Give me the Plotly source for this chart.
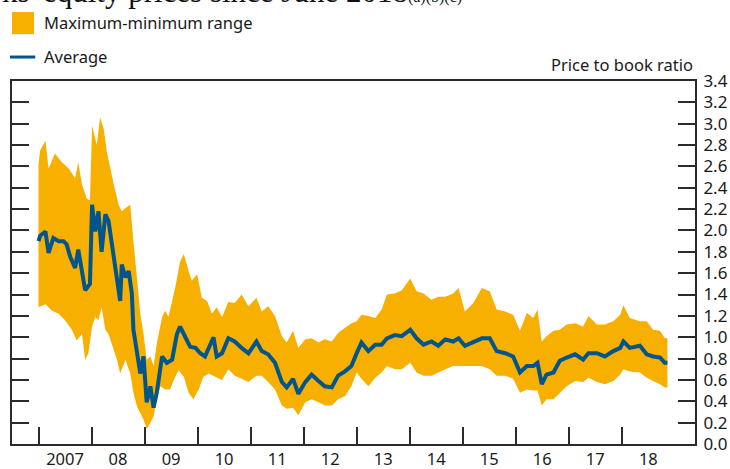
import plotly.graph_objects as go

# ---- data ----
max_t = [2007.00, 2007.03, 2007.13, 2007.19, 2007.31, 2007.44, 2007.57, 2007.69, 2007.75, 2007.82,
         2007.91, 2007.97, 2008.01, 2008.10, 2008.16, 2008.23, 2008.29, 2008.35, 2008.42, 2008.51,
         2008.57, 2008.64, 2008.73, 2008.79, 2008.86, 2008.92, 2008.98, 2009.04, 2009.11, 2009.17,
         2009.23, 2009.33, 2009.39, 2009.45, 2009.52, 2009.58, 2009.67, 2009.74, 2009.83, 2009.89,
         2009.99, 2010.08, 2010.18, 2010.27, 2010.36, 2010.46,
         2010.58, 2010.70, 2010.83, 2010.96, 2011.11, 2011.21, 2011.33, 2011.46, 2011.59, 2011.68,
         2011.80, 2011.90, 2012.03, 2012.15, 2012.28, 2012.40, 2012.53, 2012.65, 2012.78, 2012.90,
         2013.00, 2013.09, 2013.22, 2013.35, 2013.47, 2013.57, 2013.72, 2013.85, 2014.01, 2014.13,
         2014.26, 2014.41, 2014.54, 2014.67, 2014.82,
         2014.92, 2015.04, 2015.20, 2015.36, 2015.51, 2015.64, 2015.80, 2015.95, 2016.08, 2016.21,
         2016.33, 2016.41, 2016.49, 2016.58, 2016.71, 2016.83, 2016.96, 2017.12, 2017.27, 2017.37,
         2017.53, 2017.68, 2017.84, 2017.97, 2018.03, 2018.15, 2018.34, 2018.47, 2018.59, 2018.72,
         2018.81, 2018.86]
max_vals = [2.62, 2.75, 2.84, 2.58, 2.72, 2.64, 2.58, 2.49, 2.64, 2.43,
            2.30, 2.28, 2.98, 2.80, 3.06, 2.95, 2.73, 2.58, 2.43, 2.24,
            2.18, 2.21, 2.24, 1.90, 1.50, 1.22, 1.03, 0.79, 0.82, 0.73,
            0.94, 1.19, 1.25, 1.19, 1.34, 1.47, 1.71, 1.78, 1.62, 1.53,
            1.59, 1.37, 1.34, 1.22, 1.28, 1.19,
            1.33, 1.32, 1.40, 1.29, 1.37, 1.24, 1.29, 1.20, 1.01, 0.95,
            1.06, 0.90, 0.98, 0.99, 0.95, 0.98, 0.96, 1.04, 1.09, 1.13,
            1.15, 1.21, 1.20, 1.18, 1.26, 1.40, 1.41, 1.44, 1.55, 1.43,
            1.41, 1.35, 1.38, 1.38, 1.41,
            1.46, 1.24, 1.32, 1.46, 1.43, 1.26, 1.24, 1.21, 1.06, 1.23,
            1.18, 1.26, 0.96, 1.01, 1.06, 1.07, 1.12, 1.13, 1.10, 1.20,
            1.12, 1.12, 1.15, 1.21, 1.30, 1.18, 1.15, 1.15, 1.07, 1.06,
            0.99, 0.99]

min_t = [2007.00, 2007.13, 2007.25, 2007.38, 2007.50, 2007.63, 2007.72, 2007.82, 2007.88, 2007.94,
         2008.01, 2008.07, 2008.13, 2008.19, 2008.26, 2008.32, 2008.38, 2008.48, 2008.54, 2008.64,
         2008.73, 2008.79, 2008.86, 2008.92, 2008.98, 2009.04, 2009.11, 2009.17, 2009.23, 2009.30,
         2009.39, 2009.48, 2009.55, 2009.64, 2009.74, 2009.83, 2009.92, 2010.02, 2010.11, 2010.21,
         2010.33, 2010.46,
         2010.58, 2010.70, 2010.83, 2010.96, 2011.11, 2011.21, 2011.33, 2011.46, 2011.59, 2011.68,
         2011.80, 2011.90, 2012.03, 2012.15, 2012.28, 2012.40, 2012.53, 2012.65, 2012.78, 2012.90,
         2013.00, 2013.09, 2013.22, 2013.35, 2013.47, 2013.57, 2013.72, 2013.85, 2014.01, 2014.13,
         2014.26, 2014.41, 2014.54, 2014.67, 2014.82,
         2014.92, 2015.04, 2015.20, 2015.36, 2015.51, 2015.64, 2015.80, 2015.95, 2016.08, 2016.21,
         2016.33, 2016.41, 2016.49, 2016.58, 2016.71, 2016.83, 2016.96, 2017.12, 2017.27, 2017.37,
         2017.53, 2017.68, 2017.84, 2017.97, 2018.03, 2018.15, 2018.34, 2018.47, 2018.59, 2018.72,
         2018.81, 2018.86]
min_vals = [1.28, 1.31, 1.25, 1.22, 1.16, 1.07, 0.97, 1.03, 0.79, 0.85,
            1.10, 1.19, 1.16, 1.28, 1.07, 1.03, 0.94, 0.79, 0.66, 0.79,
            0.66, 0.48, 0.35, 0.29, 0.23, 0.14, 0.20, 0.26, 0.42, 0.54,
            0.51, 0.51, 0.60, 0.69, 0.63, 0.48, 0.42, 0.51, 0.63, 0.66,
            0.63, 0.60,
            0.70, 0.64, 0.61, 0.58, 0.64, 0.64, 0.58, 0.51, 0.36, 0.33,
            0.34, 0.27, 0.39, 0.42, 0.39, 0.36, 0.36, 0.42, 0.45, 0.54,
            0.67, 0.61, 0.54, 0.62, 0.67, 0.73, 0.70, 0.70, 0.76, 0.67,
            0.64, 0.64, 0.67, 0.70, 0.73,
            0.73, 0.73, 0.73, 0.73, 0.70, 0.64, 0.64, 0.61, 0.48, 0.51,
            0.50, 0.50, 0.36, 0.42, 0.42, 0.48, 0.54, 0.59, 0.58, 0.62,
            0.58, 0.56, 0.59, 0.65, 0.70, 0.68, 0.67, 0.62, 0.59, 0.56,
            0.53, 0.53]

avg_t = [2007.00, 2007.03, 2007.13, 2007.19, 2007.28, 2007.38, 2007.47, 2007.53, 2007.60, 2007.69,
         2007.75, 2007.82, 2007.88, 2007.97, 2008.01, 2008.07, 2008.13, 2008.19, 2008.26, 2008.32,
         2008.38, 2008.45, 2008.54, 2008.57, 2008.64, 2008.70, 2008.76, 2008.79, 2008.86, 2008.92,
         2008.98, 2009.04, 2009.11, 2009.17, 2009.23, 2009.33, 2009.42, 2009.52, 2009.61, 2009.67,
         2009.77, 2009.86, 2009.96, 2010.05, 2010.14, 2010.24, 2010.30, 2010.36, 2010.46,
         2010.58, 2010.70, 2010.83, 2010.96, 2011.11, 2011.21, 2011.33, 2011.46, 2011.59, 2011.68,
         2011.80, 2011.90, 2012.03, 2012.15, 2012.28, 2012.40, 2012.53, 2012.65, 2012.78, 2012.90,
         2013.00, 2013.09, 2013.22, 2013.35, 2013.47, 2013.57, 2013.72, 2013.85, 2014.01, 2014.13,
         2014.26, 2014.41, 2014.54, 2014.67, 2014.82,
         2014.92, 2015.04, 2015.20, 2015.36, 2015.51, 2015.64, 2015.80, 2015.95, 2016.08, 2016.21,
         2016.33, 2016.41, 2016.49, 2016.58, 2016.71, 2016.83, 2016.96, 2017.12, 2017.27, 2017.37,
         2017.53, 2017.68, 2017.84, 2017.97, 2018.03, 2018.15, 2018.34, 2018.47, 2018.59, 2018.72,
         2018.81, 2018.86]
avg_vals = [1.90, 1.95, 1.99, 1.79, 1.93, 1.90, 1.90, 1.87, 1.75, 1.65,
            1.82, 1.59, 1.44, 1.50, 2.24, 1.99, 2.18, 1.80, 2.15, 2.09,
            1.90, 1.62, 1.34, 1.68, 1.56, 1.62, 1.41, 1.07, 0.82, 0.66,
            0.82, 0.39, 0.54, 0.34, 0.48, 0.82, 0.76, 0.79, 1.03, 1.10,
            1.00, 0.91, 0.90, 0.85, 0.82, 0.94, 1.00, 0.82, 0.85,
            0.99, 0.96, 0.90, 0.85, 0.96, 0.87, 0.84, 0.76, 0.58, 0.53,
            0.61, 0.47, 0.58, 0.65, 0.59, 0.54, 0.53, 0.64, 0.68, 0.73,
            0.85, 0.95, 0.87, 0.93, 0.93, 0.99, 1.02, 1.01, 1.07, 0.99,
            0.93, 0.96, 0.92, 0.98, 0.96,
            0.99, 0.92, 0.96, 0.99, 0.99, 0.87, 0.85, 0.82, 0.67, 0.73,
            0.73, 0.76, 0.56, 0.65, 0.67, 0.78, 0.81, 0.84, 0.79, 0.85,
            0.85, 0.82, 0.87, 0.90, 0.96, 0.90, 0.92, 0.84, 0.82, 0.81,
            0.76, 0.76]

year_ticks = list(range(2007, 2019))
year_labels = ["2007", "08", "09", "10", "11", "12", "13", "14", "15", "16", "17", "18"]
y_ticks = [round(0.2 * i, 1) for i in range(18)]
y_labels = [f"{v:.1f}" for v in y_ticks]

ORANGE = "#F8B000"
BLUE = "#00558C"
TXT = "#1a1a1a"
AX = "#2b2b2b"
SANS = "Noto Sans"

fig = go.Figure()
fig.add_trace(go.Scatter(
    x=max_t + min_t[::-1], y=max_vals + min_vals[::-1],
    fill="toself", fillcolor=ORANGE, line=dict(width=0, color=ORANGE),
    mode="lines", hoverinfo="skip", showlegend=False))
fig.add_trace(go.Scatter(
    x=avg_t, y=avg_vals, mode="lines",
    line=dict(color=BLUE, width=4), showlegend=False))
# invisible trace on xaxis2 so its labels render
fig.add_trace(go.Scatter(x=[year_ticks[0]], y=[0], xaxis="x2", showlegend=False,
                         mode="markers", marker=dict(opacity=0), hoverinfo="skip"))

fig.update_layout(
    width=730, height=469,
    margin=dict(l=12, r=35, t=81, b=25, autoexpand=False),
    paper_bgcolor="white", plot_bgcolor="white",
    font=dict(family=SANS, size=16, color=TXT),
    xaxis=dict(range=[2006.5, 2019.38], tickvals=year_ticks, showticklabels=False,
               ticks="inside", ticklen=17, tickwidth=2, tickcolor=AX,
               showline=True, linecolor=AX, linewidth=2, mirror=True,
               showgrid=False, zeroline=False, automargin=False),
    xaxis2=dict(range=[2006.5, 2019.38], overlaying="x", side="bottom",
                tickvals=[y + 0.5 for y in year_ticks], ticktext=year_labels,
                ticks="", showline=False, showgrid=False, zeroline=False, automargin=False,
                tickfont=dict(family=SANS, size=16.5, color=TXT), ticklabelstandoff=3),
    yaxis=dict(range=[0, 3.4], side="right", tickvals=y_ticks, ticktext=y_labels,
               ticks="inside", ticklen=17, tickwidth=2, tickcolor=AX,
               showline=True, linecolor=AX, linewidth=2, mirror="ticks",
               showgrid=False, zeroline=False, automargin=False,
               tickfont=dict(family=SANS, size=17, color=TXT), ticklabelstandoff=3),
    showlegend=False,
    shapes=[
        dict(type="rect", xref="paper", yref="paper", x0=0.0, x1=0.0322, y0=1.129, y1=1.190,
             fillcolor=ORANGE, line=dict(width=0)),
        dict(type="line", xref="paper", yref="paper", x0=-0.003, x1=0.034, y0=1.066, y1=1.066,
             line=dict(color=BLUE, width=3)),
    ],
    annotations=[
        dict(text="Maximum-minimum range", xref="paper", yref="paper", x=0.044, y=1.160,
             xanchor="left", yanchor="middle", showarrow=False, font=dict(size=16.5, color=TXT)),
        dict(text="Average", xref="paper", yref="paper", x=0.044, y=1.068,
             xanchor="left", yanchor="middle", showarrow=False, font=dict(size=16.5, color=TXT)),
        dict(text="Price to book ratio", xref="paper", yref="paper", x=1.0, y=1.045,
             xanchor="right", yanchor="middle", showarrow=False, font=dict(size=16.5, color=TXT)),
        dict(text="ks' equity prices since June 2018<span style='font-size:16px'>(a)(b)(c)</span>",
             xref="paper", yref="paper", x=-0.018, y=1.193, xanchor="left", yanchor="bottom",
             showarrow=False, font=dict(family="Liberation Serif", size=31, color="#111111")),
    ],
)

# remove the default 8px page margin so the 730x469 figure fills the window
fig.write_html("out.html", config={"displayModeBar": False},
               post_script="document.body.style.margin='0';")
